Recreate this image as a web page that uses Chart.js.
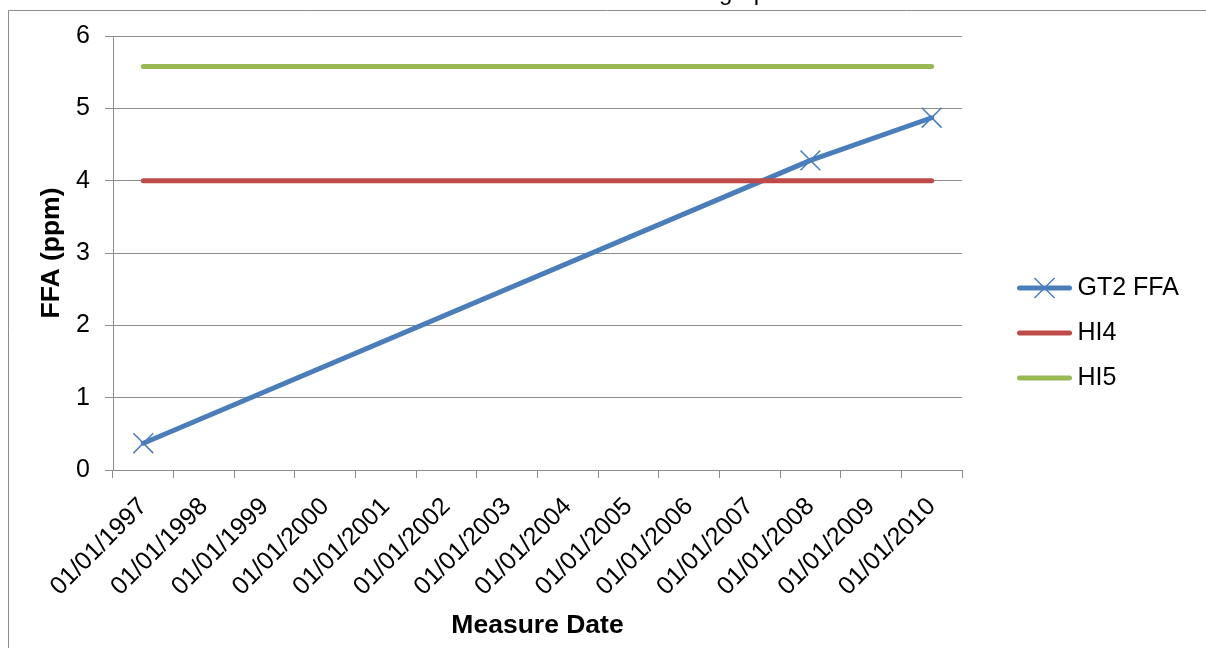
<!DOCTYPE html>
<html>
<head>
<meta charset="utf-8">
<script src="https://cdn.jsdelivr.net/npm/chart.js@4.4.1/dist/chart.umd.min.js"></script>
<style>
  html, body { margin: 0; padding: 0; background: #ffffff; overflow: hidden; }
  #wrap { position: relative; width: 1206px; height: 648px; }
</style>
</head>
<body>
<div id="wrap"><canvas id="chart" width="1206" height="648"></canvas></div>
<script>
// Yearly categories of the measure-date axis
const categories = [
  '01/01/1997', '01/01/1998', '01/01/1999', '01/01/2000', '01/01/2001',
  '01/01/2002', '01/01/2003', '01/01/2004', '01/01/2005', '01/01/2006',
  '01/01/2007', '01/01/2008', '01/01/2009', '01/01/2010'
];

// Measured FFA values (ppm); years without a measurement are null
const gt2Ffa = [0.37, null, null, null, null, null, null, null, null, null, null, 4.28, null, 4.87];

// Limit levels, given at the same measurement dates
const hi4 = [4, null, null, null, null, null, null, null, null, null, null, 4, null, 4];
const hi5 = [5.58, null, null, null, null, null, null, null, null, null, null, 5.58, null, 5.58];

const seriesNames = ['GT2 FFA', 'HI4', 'HI5'];
const seriesColors = ['#4a7ebb', '#be4b48', '#98b954'];

const FONT = '"Liberation Sans", Arial, Helvetica, sans-serif';
const GRID = '#8c8c8c';
const TICK_FONT = 25;
const TITLE_FONT = 26.5;
const LEGEND_FONT = 25;
const LEGEND_PAD = 20;
const SWATCH_BOX = 83;

Chart.defaults.font.family = FONT;
Chart.defaults.color = '#000000';

// Legend sample: a thick line, with the series marker in its middle when it has one
function legendSwatch(color, marker) {
  const c = document.createElement('canvas');
  c.width = 97; c.height = 26;
  const g = c.getContext('2d');
  g.strokeStyle = color;
  g.lineCap = 'round';
  g.lineWidth = 5;
  g.beginPath(); g.moveTo(44.5, 13); g.lineTo(94.5, 13); g.stroke();
  if (marker) {
    g.lineWidth = 1.5;
    g.lineCap = 'butt';
    const cx = 69.5, cy = 13, r = 10;
    g.beginPath();
    g.moveTo(cx - r, cy - r); g.lineTo(cx + r, cy + r);
    g.moveTo(cx + r, cy - r); g.lineTo(cx - r, cy + r);
    g.stroke();
  }
  return c;
}

// Right padding so that the legend column sits right of the plot
const measureCtx = document.createElement('canvas').getContext('2d');
measureCtx.font = LEGEND_FONT + 'px ' + FONT;
const legendTextW = Math.max(...seriesNames.map(n => measureCtx.measureText(n).width));
const legendWidth = LEGEND_PAD + SWATCH_BOX + LEGEND_FONT / 2 + legendTextW + 10;
const padRight = Math.max(0, 1206 - 962 - legendWidth);

// Outer frame and the chart heading above it
const framePlugin = {
  id: 'frame',
  beforeDraw(chart) {
    const ctx = chart.ctx;
    ctx.save();
    ctx.strokeStyle = GRID;
    ctx.lineWidth = 1;
    ctx.beginPath();
    ctx.moveTo(8.5, chart.height);
    ctx.lineTo(8.5, 10.5);
    ctx.lineTo(chart.width, 10.5);
    ctx.stroke();
    ctx.font = '24px ' + FONT;
    ctx.fillStyle = '#000000';
    ctx.textBaseline = 'alphabetic';
    ctx.textAlign = 'left';
    const lead = 'GT2 FFA Trend ';
    ctx.fillText(lead + 'graph', 719 - ctx.measureText(lead).width, 0);
    ctx.restore();
  }
};

const datasets = [
  {
    label: seriesNames[0], data: gt2Ffa, borderColor: seriesColors[0], backgroundColor: seriesColors[0],
    borderWidth: 5, borderCapStyle: 'round', borderJoinStyle: 'round', spanGaps: true,
    pointStyle: 'crossRot', pointRadius: 14, pointBorderWidth: 1.5,
    pointBorderColor: seriesColors[0], pointBackgroundColor: seriesColors[0], order: 3
  },
  {
    label: seriesNames[1], data: hi4, borderColor: seriesColors[1], backgroundColor: seriesColors[1],
    borderWidth: 5, borderCapStyle: 'round', spanGaps: true, pointRadius: 0, order: 2
  },
  {
    label: seriesNames[2], data: hi5, borderColor: seriesColors[2], backgroundColor: seriesColors[2],
    borderWidth: 5, borderCapStyle: 'round', spanGaps: true, pointRadius: 0, order: 1
  }
];

new Chart(document.getElementById('chart'), {
  type: 'line',
  data: { labels: categories, datasets },
  options: {
    responsive: false,
    animation: false,
    events: [],
    layout: { padding: { left: 10, top: 36, bottom: 18, right: padRight } },
    plugins: {
      tooltip: { enabled: false },
      title: { display: false },
      legend: {
        position: 'right',
        align: 'center',
        labels: {
          usePointStyle: true,
          pointStyleWidth: SWATCH_BOX,
          padding: LEGEND_PAD,
          color: '#000000',
          font: { size: LEGEND_FONT },
          generateLabels(chart) {
            return chart.data.datasets.map((ds, i) => ({
              text: ds.label,
              pointStyle: legendSwatch(ds.borderColor, ds.pointRadius > 0),
              fillStyle: ds.borderColor,
              strokeStyle: ds.borderColor,
              lineWidth: 0,
              fontColor: '#000000',
              hidden: false,
              datasetIndex: i
            }));
          }
        }
      }
    },
    scales: {
      x: {
        offset: true,
        grid: { offset: true, drawOnChartArea: false, drawTicks: true, tickLength: 8, color: GRID, lineWidth: 1 },
        border: { display: true, color: GRID, width: 1 },
        ticks: { autoSkip: false, minRotation: 45, maxRotation: 45, color: '#000000', font: { size: TICK_FONT }, padding: 14 },
        title: { display: true, text: 'Measure Date', color: '#000000', font: { size: TITLE_FONT, weight: 'bold' }, padding: { top: 0, bottom: -12 } },
        afterFit(scale) { scale.height = 160; }
      },
      y: {
        min: 0, max: 6,
        ticks: { stepSize: 1, color: '#000000', font: { size: TICK_FONT }, padding: 15 },
        grid: { color: GRID, lineWidth: 1, tickLength: 8 },
        border: { display: true, color: GRID, width: 1 },
        title: { display: true, text: 'FFA (ppm)', color: '#000000', font: { size: TITLE_FONT, weight: 'bold' }, padding: { top: 26, bottom: 0 } },
        afterFit(scale) { scale.width = 103; }
      }
    }
  },
  plugins: [framePlugin]
});
</script>
</body>
</html>
